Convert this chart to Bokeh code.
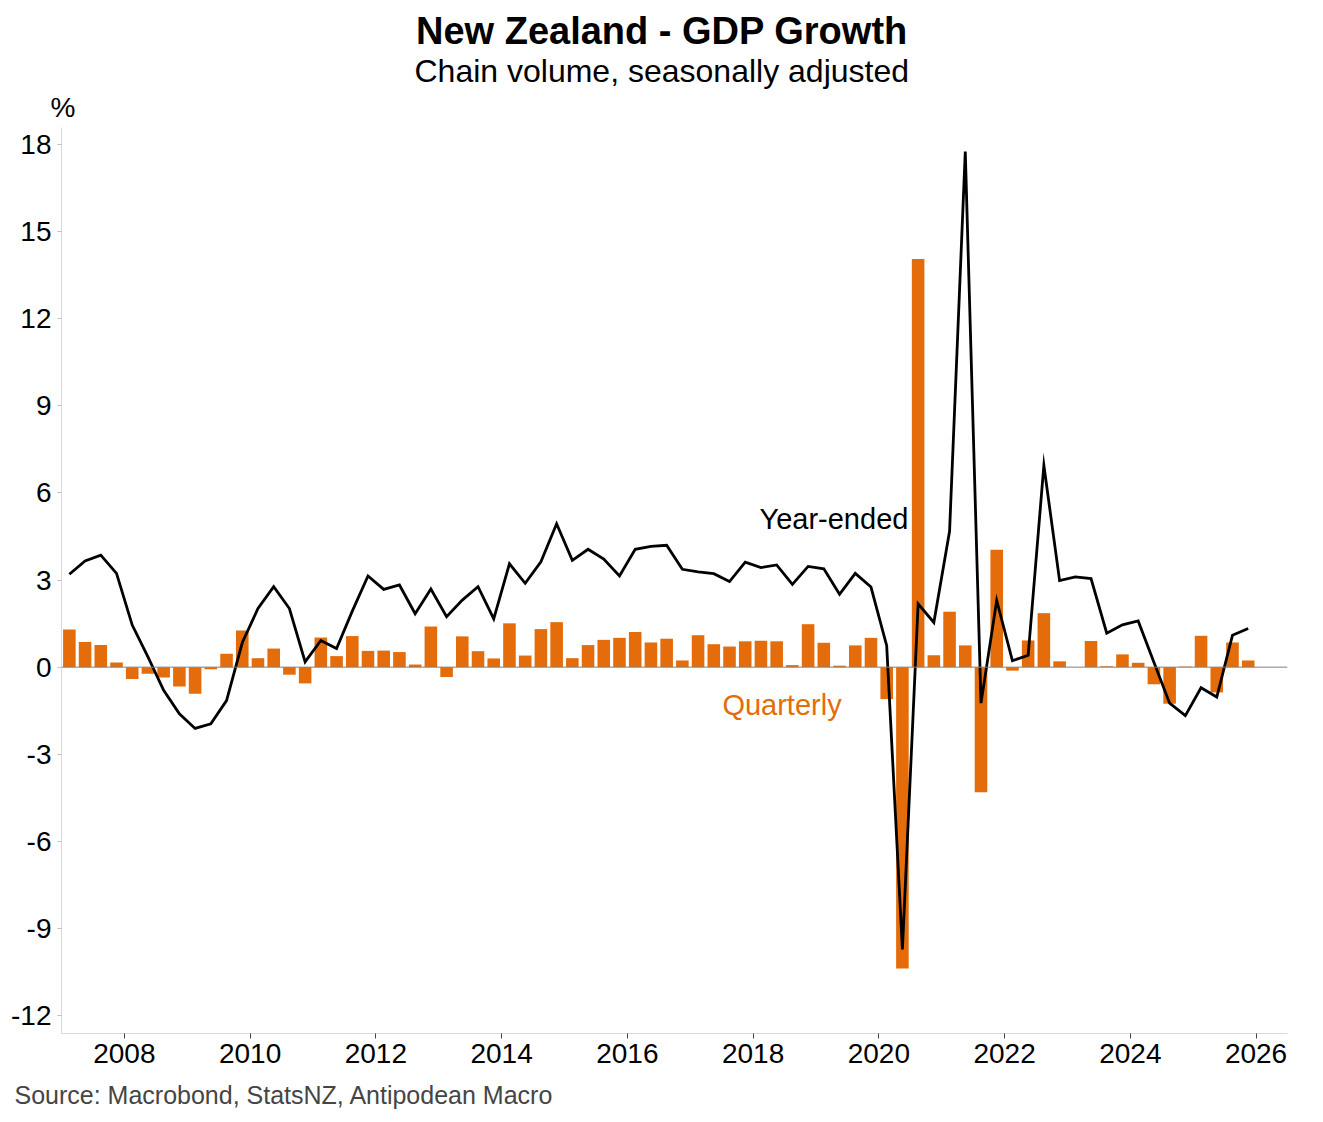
from bokeh.plotting import figure
from bokeh.models import Label, Span, FixedTicker, Range1d, ColumnDataSource, Title
from bokeh.embed import file_html
from bokeh.resources import INLINE

# Quarterly periods: 2007 Q1 ... 2025 Q4 (plotted at mid-quarter)
start_year = 2007
n_quarters = 76

quarterly = [1.30, 0.87, 0.76, 0.16, -0.41, -0.23, -0.36, -0.67, -0.92, -0.07,
             0.46, 1.26, 0.31, 0.64, -0.26, -0.56, 1.02, 0.38, 1.07, 0.56,
             0.57, 0.52, 0.09, 1.40, -0.34, 1.06, 0.55, 0.30, 1.51, 0.40,
             1.31, 1.55, 0.31, 0.76, 0.94, 1.01, 1.21, 0.85, 0.98, 0.23,
             1.10, 0.79, 0.71, 0.89, 0.91, 0.89, 0.07, 1.48, 0.84, 0.05,
             0.75, 1.01, -1.10, -10.38, 14.06, 0.41, 1.91, 0.75, -4.31, 4.04,
             -0.12, 0.92, 1.86, 0.20, 0.00, 0.90, 0.03, 0.44, 0.15, -0.59,
             -1.26, 0.02, 1.08, -0.87, 0.85, 0.23]

year_ended = [3.20, 3.66, 3.86, 3.23, 1.45, 0.35, -0.80, -1.61, -2.11, -1.95,
              -1.15, 0.84, 2.02, 2.77, 2.02, 0.18, 0.92, 0.64, 1.93, 3.14,
              2.68, 2.83, 1.84, 2.69, 1.74, 2.31, 2.77, 1.66, 3.56, 2.89,
              3.63, 4.94, 3.68, 4.06, 3.72, 3.14, 4.06, 4.16, 4.20, 3.37,
              3.28, 3.22, 2.95, 3.62, 3.43, 3.52, 2.85, 3.47, 3.39, 2.51,
              3.23, 2.76, 0.74, -9.72, 2.18, 1.54, 4.68, 17.76, -1.24, 2.30,
              0.22, 0.41, 6.95, 2.98, 3.11, 3.05, 1.17, 1.46, 1.59, 0.17,
              -1.24, -1.67, -0.71, -1.03, 1.10, 1.33]

x_ticks = [2008, 2010, 2012, 2014, 2016, 2018, 2020, 2022, 2024, 2026]
y_ticks = [-12, -9, -6, -3, 0, 3, 6, 9, 12, 15, 18]

dates = [start_year + 0.125 + 0.25 * i for i in range(n_quarters)]
src = ColumnDataSource(dict(x=dates, q=quarterly, y=year_ended))

FONT = "Liberation Sans"
ORANGE = "#E46C0A"

p = figure(width=1323, height=1122, output_backend="svg", toolbar_location=None,
           x_range=Range1d(2007.0, 2026.5), y_range=Range1d(-12.62, 18.59),
           min_border_left=61, min_border_right=36, min_border_top=127,
           min_border_bottom=89)
p.title.text = ""
p.xgrid.visible = False
p.ygrid.visible = False
p.outline_line_color = None
p.background_fill_color = "white"
p.border_fill_color = "white"

for ax in (p.xaxis[0], p.yaxis[0]):
    ax.axis_line_color = "#d9d9d9"
    ax.axis_line_width = 1
    ax.minor_tick_line_color = None
    ax.major_label_text_font = FONT
    ax.major_label_text_font_size = "28px"
    ax.major_label_text_color = "black"

p.xaxis[0].ticker = FixedTicker(ticks=x_ticks)
p.xaxis[0].major_tick_line_color = "#404040"
p.xaxis[0].major_tick_out = 5
p.xaxis[0].major_tick_in = 0
p.yaxis[0].ticker = FixedTicker(ticks=y_ticks)
p.yaxis[0].major_label_overrides = {t: str(t) for t in y_ticks}
p.yaxis[0].major_tick_line_color = "#bfbfbf"
p.yaxis[0].major_tick_out = 4
p.yaxis[0].major_tick_in = 0
p.yaxis[0].major_label_standoff = 6

p.vbar(x="x", top="q", bottom=0, width=0.2, source=src,
       fill_color=ORANGE, line_color=None)
p.add_layout(Span(location=0, dimension="width", line_color="#808080", line_width=1))
p.line("x", "y", source=src, line_color="black", line_width=2.8, line_join="miter")

# Series annotations
p.add_layout(Label(x=2020.47, y=5.12, text="Year-ended", text_align="right",
                   text_baseline="middle", text_font=FONT, text_font_size="29px",
                   text_color="black"))
p.add_layout(Label(x=2018.46, y=-1.29, text="Quarterly", text_align="center",
                   text_baseline="middle", text_font=FONT, text_font_size="29px",
                   text_color=ORANGE))

# Titles (first added sits closest to the frame)
p.add_layout(Title(text="%", align="left", offset=-11, standoff=8.8,
                   text_font=FONT, text_font_size="28px", text_font_style="normal",
                   text_color="black"), "above")
p.add_layout(Title(text="Chain volume, seasonally adjusted", align="left", offset=353,
                   standoff=-7.2, text_font=FONT, text_font_size="32px",
                   text_font_style="normal", text_color="black"), "above")
p.add_layout(Title(text="New Zealand - GDP Growth", align="left", offset=354.5,
                   standoff=6, text_font=FONT, text_font_size="38px",
                   text_font_style="bold", text_color="black"), "above")
p.add_layout(Title(text="Source: Macrobond, StatsNZ, Antipodean Macro", align="left",
                   offset=-47, standoff=27, text_font=FONT, text_font_size="25px",
                   text_font_style="normal", text_color="#454545"), "below")

open("out.html", "w").write(file_html(p, INLINE))
